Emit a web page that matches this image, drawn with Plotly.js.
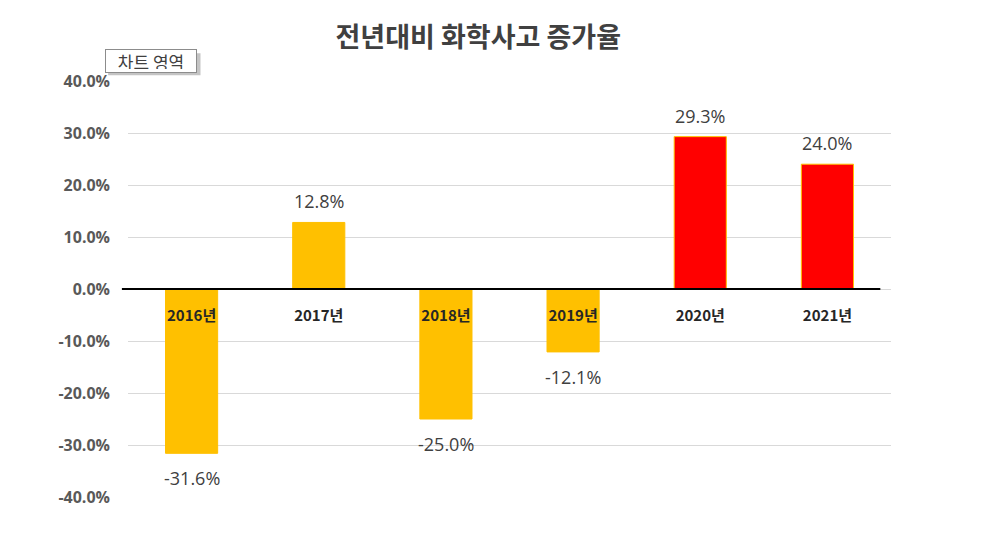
<!DOCTYPE html>
<html>
<head>
<meta charset="utf-8">
<script src="https://cdn.plot.ly/plotly-3.0.1.min.js"></script>
<style>
  html, body { margin: 0; padding: 0; background: #fff; }
  #chart { width: 982px; height: 542px; }
</style>
</head>
<body>
<div id="chart"></div>
<script>
// data
let years = ['2016년', '2017년', '2018년', '2019년', '2020년', '2021년'];
let rates = [-0.316, 0.128, -0.250, -0.121, 0.293, 0.240];
let yTicks = [0.4, 0.3, 0.2, 0.1, 0, -0.1, -0.2, -0.3, -0.4];
let redFrom = '2020년';

let chart = document.getElementById('chart');
let kr = '"Noto Sans CJK KR", "Noto Sans", sans-serif';
let num = '"Open Sans", "Noto Sans CJK KR", sans-serif';

// plain hyphen for the minus sign, as excel shows it
function pct(v) {
    return (v * 100).toFixed(1) + '%';
}

let barColors = years.map(function (y) {
    return y >= redFrom ? '#FF0000' : '#FFC000';
});

let trace = {
    type: 'bar',
    x: years,
    y: rates,
    marker: {
        color: barColors,
        line: {color: '#FFC000', width: 1}
    },
    cliponaxis: false,
    hoverinfo: 'none'
};

// value labels, a bit further from the bar ends than plotly's own text
let valueLabels = years.map(function (y, i) {
    let v = rates[i];
    return {
        x: y, y: v, xref: 'x', yref: 'y',
        text: pct(v), showarrow: false,
        yanchor: v >= 0 ? 'bottom' : 'top',
        yshift: v >= 0 ? 7 : -11,
        font: {family: num, size: 18, color: '#404040'}
    };
});

// the little "chart area" tip box (excel hover tooltip)
let tipBox = {
    xref: 'paper', yref: 'paper',
    x: -0.030, y: 1.076, xanchor: 'left', yanchor: 'top',
    text: '차트 영역', showarrow: false,
    width: 84, height: 16,
    font: {family: kr, size: 17, color: '#404040'},
    bgcolor: '#fff', bordercolor: '#8c8c8c', borderwidth: 1, borderpad: 3
};

let layout = {
    width: 982,
    height: 542,
    margin: {l: 128, r: 91, t: 81, b: 45},
    paper_bgcolor: '#fff',
    plot_bgcolor: '#fff',
    showlegend: false,
    bargap: 0.59,
    title: {
        text: '전년대비 화학사고 증가율',
        font: {family: kr, size: 27, color: '#404040', weight: 'bold'},
        xref: 'container', x: 0.487, xanchor: 'center',
        yref: 'container', y: 0.93, yanchor: 'middle'
    },
    xaxis: {
        type: 'category',
        anchor: 'free',
        position: 0.5,
        showline: false,
        showgrid: false,
        ticks: '',
        ticklabelstandoff: 16,
        tickfont: {family: kr, size: 15, color: '#262626', weight: 'bold'},
        layer: 'above traces'
    },
    yaxis: {
        range: [-0.4, 0.4],
        tickmode: 'array',
        tickvals: yTicks,
        ticktext: yTicks.map(pct),
        showgrid: true,
        gridcolor: '#D9D9D9',
        gridwidth: 1,
        zeroline: false,
        showline: false,
        ticks: '',
        ticklabelstandoff: 17,
        tickfont: {family: num, size: 16, color: '#595959', weight: 'bold'}
    },
    shapes: [
        {
            // the black zero axis, which starts a little left of the grid
            type: 'line', layer: 'above',
            xref: 'paper', x0: -0.008, x1: 0.986,
            yref: 'y', y0: 0, y1: 0,
            line: {color: '#000', width: 2}
        },
        {
            // shadow under the tip box
            type: 'rect', layer: 'above',
            xref: 'paper', x0: -0.026, x1: 0.095,
            yref: 'paper', y0: 1.014, y1: 1.067,
            fillcolor: '#c4c4c4', line: {width: 0}
        }
    ],
    annotations: valueLabels.concat([tipBox])
};

Plotly.newPlot(chart, [trace], layout, {staticPlot: true});
</script>
</body>
</html>
